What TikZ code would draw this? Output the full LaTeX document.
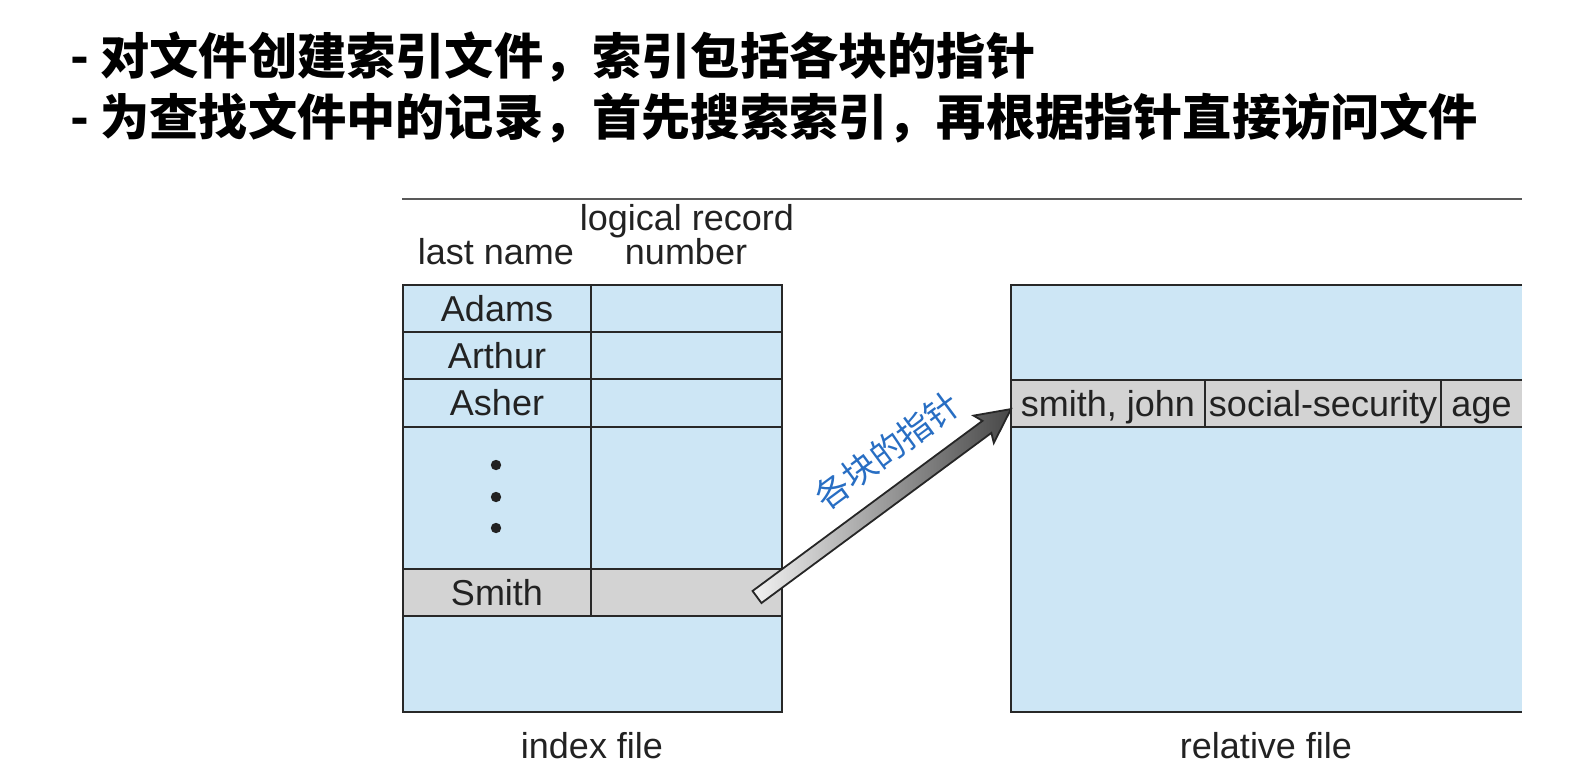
\documentclass[tikz,border=0pt]{standalone}
\usepackage{fontspec}
\setmainfont{Liberation Sans}
\newfontfamily\cjk{Noto Sans CJK SC}
\definecolor{lb}{RGB}{205,230,245}
\definecolor{gr}{RGB}{211,211,211}
\definecolor{lc}{RGB}{40,40,40}
\definecolor{tc}{RGB}{34,34,34}
\definecolor{bl}{RGB}{40,110,195}
\begin{document}
\begin{tikzpicture}[x=0.5pt,y=-0.5pt,
  txt/.style={text=tc, font=\fontsize{18}{20}\selectfont, text height=12.9pt, text depth=0pt},
  cell/.style={txt, draw=lc, line width=1pt, fill=lb, inner sep=0pt, outer sep=0pt, anchor=north west},
  gcell/.style={cell, fill=gr},
  rcell/.style={txt, fill=gr, inner sep=0pt, outer sep=0pt, anchor=north west, minimum height=23.5pt},
  lbl/.style={txt, inner sep=0pt},
  ttl/.style={anchor=west, inner sep=0pt, font=\cjk\bfseries\fontsize{24.6}{28}\selectfont},
  ln/.style={draw=lc, line width=1pt},
]
\useasboundingbox (0,0) rectangle (1573,776);
% title
\node[ttl] (t1) at (70,57) {- 对文件创建索引文件，索引包括各块的指针};
\node[ttl] (t2) at (70,118) {- 为查找文件中的记录，首先搜索索引，再根据指针直接访问文件};
% top hairline
\draw[gray!70!black, line width=0.6pt] (402,199) -- (1522,199);
% headers
\node[lbl] (h1) at (687,218) {logical record};
\node[lbl] (h2) at (686,252) {number};
\node[lbl] (h3) at (496,252) {last name};
% index table
\node[cell, minimum width=94pt, minimum height=23.5pt] (a1) at (403,285) {Adams};
\node[cell, minimum width=95.5pt, minimum height=23.5pt] (a2) at (591,285) {};
\node[cell, minimum width=94pt, minimum height=23.5pt] (b1) at (403,332) {Arthur};
\node[cell, minimum width=95.5pt, minimum height=23.5pt] (b2) at (591,332) {};
\node[cell, minimum width=94pt, minimum height=24pt] (c1) at (403,379) {Asher};
\node[cell, minimum width=95.5pt, minimum height=24pt] (c2) at (591,379) {};
\node[cell, minimum width=94pt, minimum height=71pt] (d1) at (403,427) {};
\node[cell, minimum width=95.5pt, minimum height=71pt] (d2) at (591,427) {};
\node[gcell, minimum width=94pt, minimum height=23.5pt] (s1) at (403,569) {Smith};
\node[gcell, minimum width=95.5pt, minimum height=23.5pt] (s2) at (591,569) {};
\node[cell, minimum width=189.5pt, minimum height=48pt] (e1) at (403,616) {};
\fill[tc] (496,465) circle (2.6pt) (496,497) circle (2.6pt) (496,528) circle (2.6pt);
% relative file
\fill[lb] (1011,285) rectangle (1522,712);
\node[rcell, minimum width=97pt] (r1) at (1011,380) {smith, john};
\node[rcell, minimum width=118pt] (r2) at (1205,380) {social-security};
\node[rcell, minimum width=40.5pt] (r3) at (1441,380) {age};
\draw[ln] (1522,285) -- (1011,285) -- (1011,712) -- (1522,712);
\draw[ln] (1011,380) -- (1522,380) (1011,427) -- (1522,427);
\draw[ln] (r1.north east) -- (r1.south east) (r2.north east) -- (r2.south east);
% bottom labels
\node[lbl] (f1) at (592,746) {index file};
\node[lbl] (f2) at (1266,746) {relative file};
% arrow
\coordinate (tail) at (757,597);
\coordinate (tip) at (1011,409);
\begin{scope}[shift={(tail)}, rotate=36.5]
\filldraw[draw=black!85, line width=0.9pt, left color=gray!10, right color=black!72, line join=miter]
  (0,-7.5) -- (286,-7.5) -- (282,-17) -- (316,0) -- (282,17) -- (286,7.5) -- (0,7.5) -- cycle;
\end{scope}
\node[rotate=36.5, text=bl, inner sep=0pt, font=\cjk\fontsize{17}{18}\selectfont] (lab) at (887,450) {各块的指针};
\end{tikzpicture}
\end{document}
